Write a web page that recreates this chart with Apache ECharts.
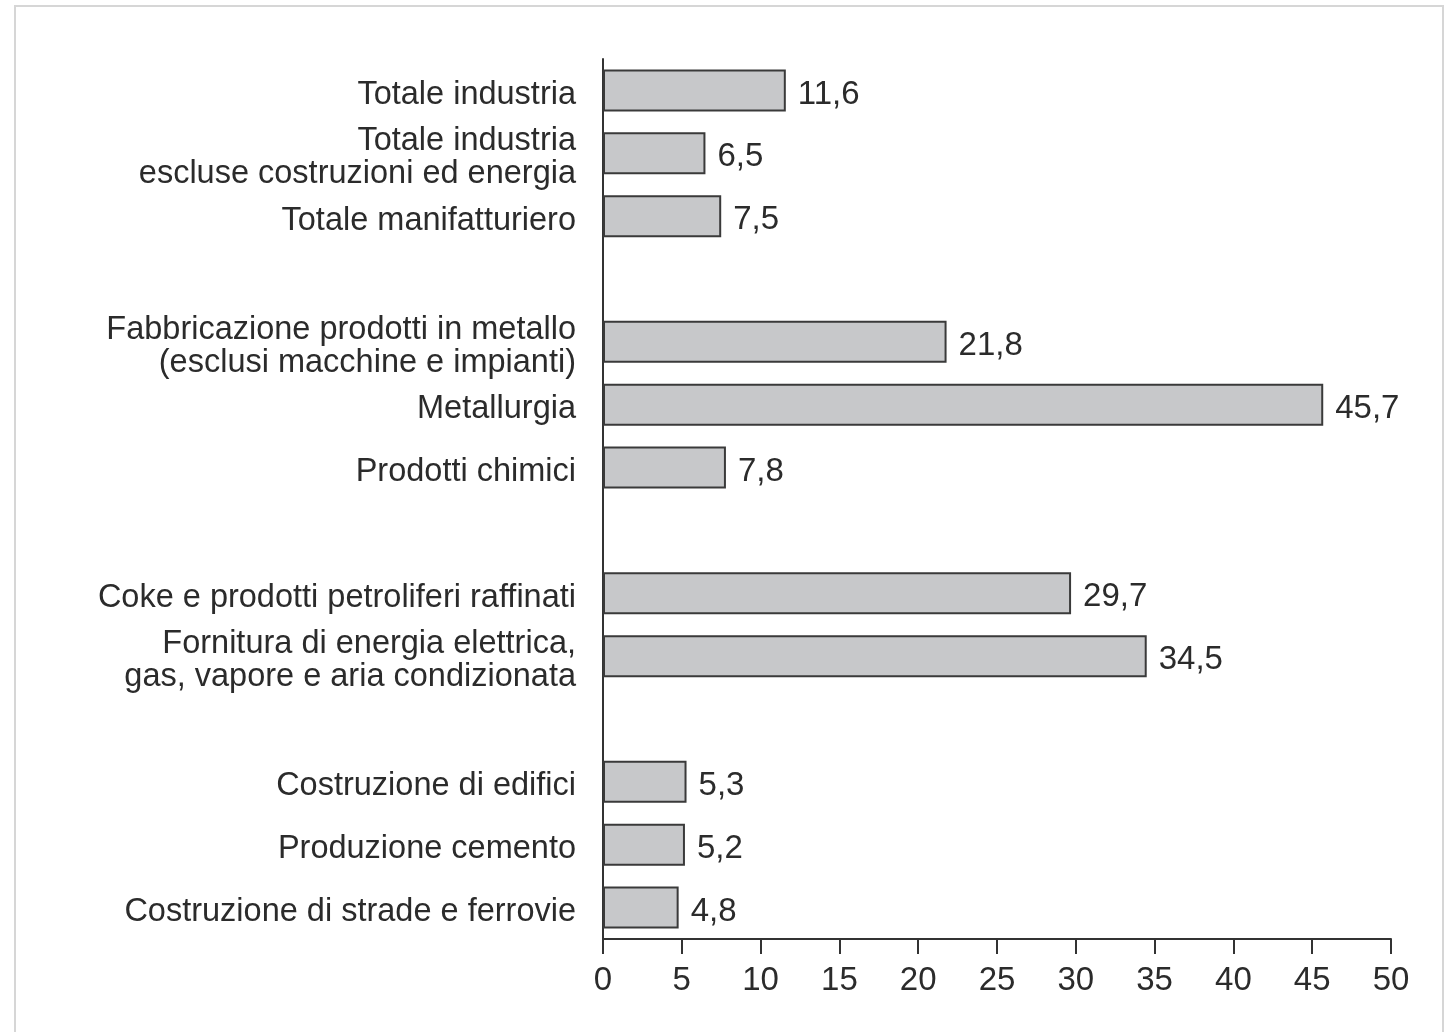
<!DOCTYPE html>
<html>
<head>
<meta charset="utf-8">
<script src="https://cdn.jsdelivr.net/npm/echarts@6/dist/echarts.min.js"></script>
<style>
  html, body { margin: 0; padding: 0; background: #fff; }
  #chart { width: 1453px; height: 1032px; }
</style>
</head>
<body>
<div id="chart"></div>
<script>
  // categorie (stringhe vuote = spazi tra i gruppi)
  const categories = [
    'Totale industria',
    'Totale industria\nescluse costruzioni ed energia',
    'Totale manifatturiero',
    '',
    'Fabbricazione prodotti in metallo\n(esclusi macchine e impianti)',
    'Metallurgia',
    'Prodotti chimici',
    '',
    'Coke e prodotti petroliferi raffinati',
    'Fornitura di energia elettrica,\ngas, vapore e aria condizionata',
    '',
    'Costruzione di edifici',
    'Produzione cemento',
    'Costruzione di strade e ferrovie'
  ]
  const values = [11.6, 6.5, 7.5, '-', 21.8, 45.7, 7.8, '-', 29.7, 34.5, '-', 5.3, 5.2, 4.8]
  const xTicks = [0, 5, 10, 15, 20, 25, 30, 35, 40, 45, 50]

  const textColor = '#2b2b2b'
  const font = 'Liberation Sans, Arial, sans-serif'

  const chart = echarts.init(document.getElementById('chart'))

  chart.setOption({
    animation: false,
    backgroundColor: '#fff',
    graphic: [{
      type: 'rect',
      shape: { x: 15, y: 6, width: 1428, height: 1040 },
      style: { fill: 'none', stroke: '#d6d6d6', lineWidth: 2 },
      silent: true
    }],
    grid: {
      left: 603,
      right: 62,
      top: 59,
      bottom: 93,
      containLabel: false
    },
    xAxis: {
      type: 'value',
      min: xTicks[0],
      max: xTicks[xTicks.length - 1],
      interval: 5,
      splitLine: { show: false },
      axisLine: { show: true, lineStyle: { color: '#333', width: 2 } },
      axisTick: { show: true, length: 15, lineStyle: { color: '#333', width: 2 } },
      axisLabel: {
        color: textColor,
        fontSize: 33,
        fontFamily: font,
        margin: 25
      }
    },
    yAxis: {
      type: 'category',
      inverse: true,
      data: categories,
      axisLine: { show: true, lineStyle: { color: '#333', width: 2 } },
      axisTick: { show: false },
      axisLabel: {
        margin: 27,
        align: 'right',
        interval: 0,
        // riga vuota in testa per abbassare un po' il testo
        formatter: function (v) {
          if (!v) return ''
          return '{s| }\n' + v.split('\n').map(function (s) {
            return '{a|' + s + '}'
          }).join('\n')
        },
        rich: {
          s: { fontSize: 1, lineHeight: 9 },
          a: { color: textColor, fontSize: 32.5, fontFamily: font, lineHeight: 33, align: 'right' }
        }
      }
    },
    series: [{
      type: 'bar',
      data: values,
      barWidth: 42,
      itemStyle: {
        color: '#c7c8ca',
        borderColor: '#3a3a3a',
        borderWidth: 2
      },
      label: {
        show: true,
        position: 'right',
        distance: 12,
        offset: [0, 4],
        color: textColor,
        fontSize: 33,
        fontFamily: font,
        formatter: function (p) {
          return String(p.value).replace('.', ',')
        }
      }
    }]
  })
</script>
</body>
</html>
